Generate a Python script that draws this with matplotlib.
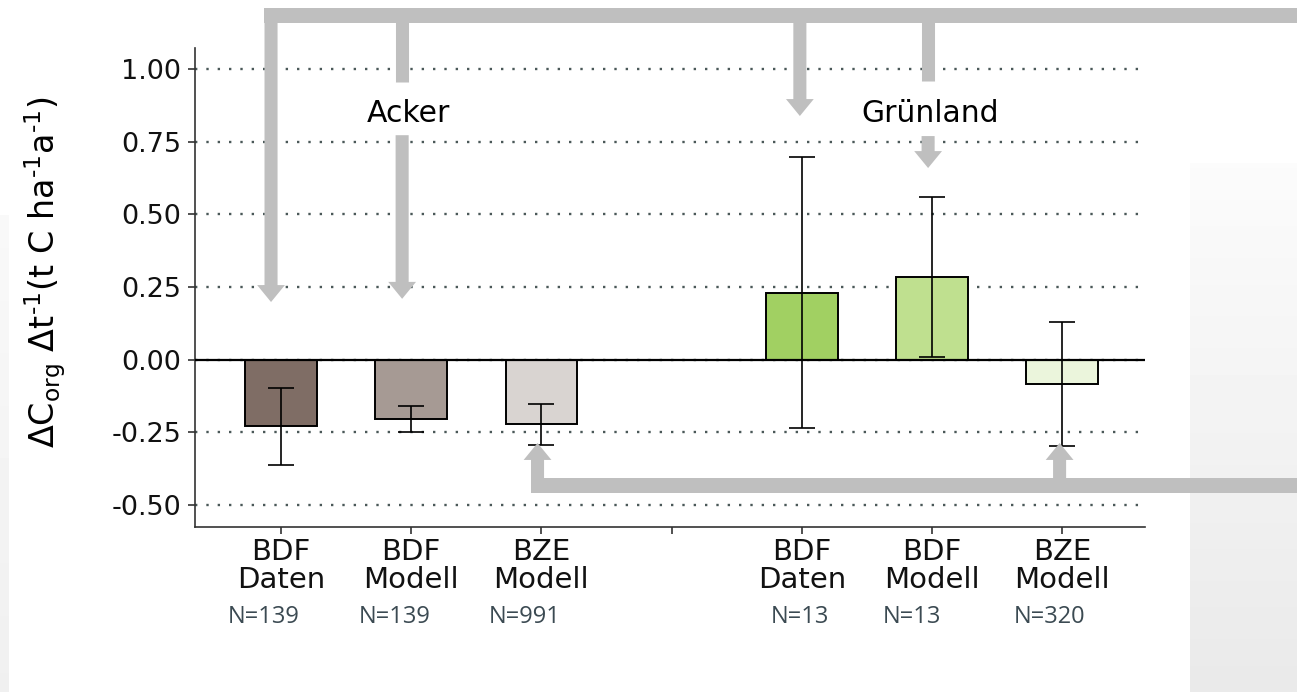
import numpy as np
import matplotlib
matplotlib.use("Agg")
import matplotlib.pyplot as plt
import matplotlib.transforms as mtransforms

plt.rcParams['font.family'] = ['DejaVu Sans']
plt.rcParams['mathtext.default'] = 'regular'
plt.rcParams['axes.unicode_minus'] = False

#!data
groups = ["Acker", "Grünland"]
tick_pos = [1, 2, 3, 4, 5, 6, 7]
tick_labels = ["BDF\nDaten", "BDF\nModell", "BZE\nModell", "",
               "BDF\nDaten", "BDF\nModell", "BZE\nModell"]
bar_pos = [1, 2, 3, 5, 6, 7]
means = [-0.230, -0.204, -0.222, 0.230, 0.284, -0.084]
err_low = [-0.362, -0.249, -0.293, -0.234, 0.008, -0.297]
err_high = [-0.098, -0.159, -0.152, 0.696, 0.559, 0.130]
n_labels = ["N=139", "N=139", "N=991", "N=13", "N=13", "N=320"]
n_shift = [-0.13, -0.13, -0.13, -0.015, -0.155, -0.094]
colors = ["#7f6d65", "#a69a94", "#d9d4d1", "#a1d062", "#bfe08f", "#ebf5dc"]
yticks = [1.00, 0.75, 0.50, 0.25, 0.00, -0.25, -0.50]

arrow_col = "#bfbfbf"

fig = plt.figure(figsize=(12.97, 6.92), dpi=100)

#!light grey gradient on the right edge of the slide
bg = fig.add_axes([1190/1297, 0, 107/1297, 1-163/692], zorder=-5)
grad = np.linspace(0.985, 0.915, 100).reshape(-1, 1)
bg.imshow(grad, cmap="gray", vmin=0, vmax=1, aspect="auto",
          extent=[0, 1, 0, 1], origin="upper")
bg.axis("off")
bg2 = fig.add_axes([0, 0, 9/1297, 1-215/692], zorder=-5)
bg2.imshow(np.linspace(0.975, 0.94, 100).reshape(-1, 1), cmap="gray",
           vmin=0, vmax=1, aspect="auto", extent=[0, 1, 0, 1], origin="upper")
bg2.axis("off")

ax = fig.add_axes([195/1297, 1-527/692, 950/1297, 479/692])
ax.set_facecolor("none")

low = np.array(means) - np.array(err_low)
high = np.array(err_high) - np.array(means)
ax.bar(bar_pos, means, width=0.55, color=colors, edgecolor="black",
       linewidth=1.4, zorder=3)
ax.errorbar(bar_pos, means, yerr=[low, high], fmt="none", ecolor="black",
            elinewidth=1.2, capsize=9.5, capthick=1.2, zorder=4)
ax.axhline(0, color="black", lw=1.6, zorder=5)

ax.set_xlim(0.339, 7.636)
ax.set_ylim(-0.576, 1.072)
ax.set_yticks(yticks)
ax.set_yticklabels(["%.2f" % v for v in yticks])
ax.set_xticks(tick_pos)
ax.set_xticklabels(tick_labels, fontsize=21, linespacing=1.0)
ax.tick_params(axis="y", labelsize=19.5, length=5, width=1.2, color="#333333",
               pad=5, labelcolor="#111111")
ax.tick_params(axis="x", length=5, width=1.2, color="#333333", pad=3,
               labelcolor="#111111")
for t in yticks:
    ax.axhline(t, color="#4a5858", lw=1.7, ls=(0, (1, 3.8)), zorder=1)
for s in ["top", "right"]:
    ax.spines[s].set_visible(False)
for s in ["left", "bottom"]:
    ax.spines[s].set_color("#333333")
    ax.spines[s].set_linewidth(1.2)

ax.set_ylabel("$\\Delta C_{org}\\ \\Delta t^{\u20101}(t\\ C\\ ha^{\u20101}a^{\u20101})$",
              fontsize=24)
ax.yaxis.set_label_coords(-0.134, 0.532)

#!sample sizes below the tick labels
trans = mtransforms.blended_transform_factory(ax.transData, fig.transFigure)
for p, lab, sh in zip(bar_pos, n_labels, n_shift):
    ax.text(p + sh, 0.108, lab, transform=trans, ha="center", va="center",
            fontsize=17, color="#3b4a52", family="Open Sans")

ax.text(1.975, 0.848, groups[0], ha="center", va="center", fontsize=21.5)
ax.text(5.985, 0.848, groups[1], ha="center", va="center", fontsize=21.5)

#!grey connector arrows
def band(x0, x1, y):
    ax.plot([x0, x1], [y, y], color=arrow_col, lw=10.8,
            solid_capstyle="projecting", clip_on=False, zorder=6)

def shaft(x, y0, y1):
    ax.plot([x, x], [y0, y1], color=arrow_col, lw=9.4,
            solid_capstyle="butt", clip_on=False, zorder=6)

def arrow(x, y0, y1):
    ax.annotate("", xy=(x, y1), xytext=(x, y0), annotation_clip=False,
                arrowprops=dict(arrowstyle="simple,head_length=1.22,"
                                "head_width=2.0,tail_width=0.94",
                                mutation_scale=10, color=arrow_col, lw=0,
                                shrinkA=0, shrinkB=0), zorder=6)

top_y = 1.184
band(0.923, 9.5, top_y)
arrow(0.923, top_y, 0.198)
shaft(1.93, top_y, 0.955)
arrow(1.93, 0.772, 0.209)
arrow(4.985, top_y, 0.838)
shaft(5.97, top_y, 0.958)
arrow(5.97, 0.769, 0.659)

bot_y = -0.431
band(2.97, 9.5, bot_y)
arrow(2.97, bot_y, -0.287)
arrow(6.98, bot_y, -0.287)

fig.savefig("out.png", dpi=100)
